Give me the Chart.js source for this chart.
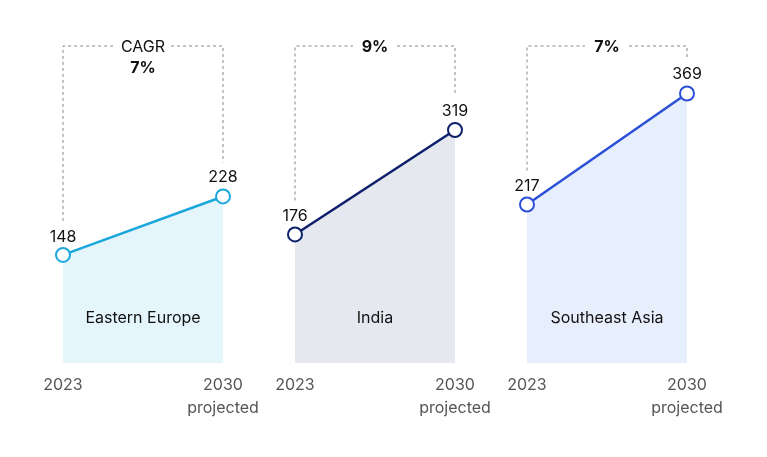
<!DOCTYPE html>
<html><head><meta charset="utf-8">
<script src="https://cdn.jsdelivr.net/npm/chart.js@4"></script>
<style>body{margin:0;background:#fff;width:767px;height:457px;position:relative;overflow:hidden}
.p{position:absolute;top:0;width:230px;height:457px}</style></head>
<body>
<div class="p" style="left:28px"><canvas id="c0" width="230" height="457"></canvas></div>
<div class="p" style="left:260px"><canvas id="c1" width="230" height="457"></canvas></div>
<div class="p" style="left:492px"><canvas id="c2" width="230" height="457"></canvas></div>
<script>
const years = ['2023','2030'];
const regions = ['Eastern Europe','India','Southeast Asia'];
const valuesEE = [148,228];
const valuesIN = [176,319];
const valuesSEA = [217,369];
const cagr = ['7%','9%','7%'];
const series=[valuesEE,valuesIN,valuesSEA];
const lineC=['#1aa7dc','#0e1f6b','#2b50d8'];
const fillC=['#e4f5fc','#e6e8f0','#e7eefc'];
const F='Inter, "Noto Sans", sans-serif';
series.forEach((vals,i)=>{
  new Chart(document.getElementById('c'+i),{
    type:'line',
    data:{labels:years,datasets:[{data:vals,borderColor:lineC[i],backgroundColor:fillC[i],fill:'origin',borderWidth:2.5,
      pointRadius:7,pointHoverRadius:7,pointBackgroundColor:'#fff',pointBorderColor:lineC[i],pointBorderWidth:2,tension:0}]},
    options:{responsive:false,animation:false,events:[],devicePixelRatio:1,
      layout:{padding:{left:35,right:35,top:46,bottom:94}},
      plugins:{legend:{display:false},tooltip:{enabled:false}},
      scales:{x:{display:false,offset:false},y:{display:false,min:0,max:434}}},
    plugins:[{id:'ann',afterDatasetsDraw(ch){
      const c=ch.ctx,a=ch.chartArea,m=ch.getDatasetMeta(0).data;
      const x0=m[0].x,x1=m[1].x,y0=m[0].y,y1=m[1].y,top=a.top,bot=a.bottom;
      c.save();
      c.textAlign='center';c.textBaseline='middle';
      c.fillStyle='#111';c.font='16px '+F;
      c.fillText(vals[0],x0,y0-18);c.fillText(vals[1],x1,y1-19);
      c.fillText(regions[i],(x0+x1)/2,318);
      c.fillStyle='#555';
      c.fillText(years[0],x0,385);c.fillText(years[1],x1,385);c.fillText('projected',x1,408);
      c.strokeStyle='#888';c.lineWidth=1;c.setLineDash([3,3]);
      const mid=(x0+x1)/2,gap=i==0?28:22;
      c.beginPath();
      c.moveTo(x0,y0-34);c.lineTo(x0,top);c.lineTo(mid-gap,top);
      c.moveTo(mid+gap,top);c.lineTo(x1,top);c.lineTo(x1,Math.max(top,y1-34));
      c.stroke();
      c.fillStyle='#111';
      if(i==0){c.font='16px '+F;c.fillText('CAGR',mid,top+1);c.font='bold 16px '+F;c.fillText(cagr[i],mid,top+22);}
      else{c.font='bold 16px '+F;c.fillText(cagr[i],mid,top+1);}
      c.restore();
    }}]
  });
});
</script></body></html>
